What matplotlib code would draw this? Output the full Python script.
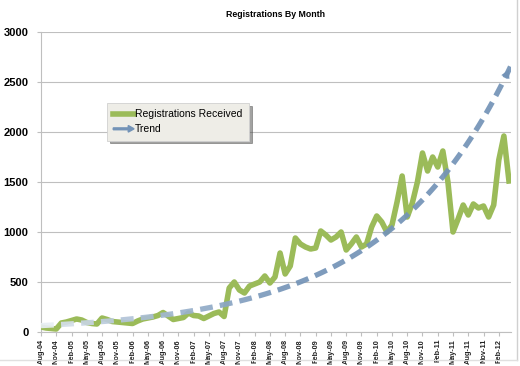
import numpy as np
import matplotlib
matplotlib.use("Agg")
import matplotlib.pyplot as plt
from matplotlib.collections import LineCollection
from matplotlib.lines import Line2D
from matplotlib.patches import FancyArrow
from matplotlib.legend_handler import HandlerPatch

plt.rcParams['font.family'] = ['Liberation Sans', 'DejaVu Sans']

# monthly registrations, Aug-04 .. Apr-12
months = ['Aug-04', 'Sep-04', 'Oct-04', 'Nov-04', 'Dec-04', 'Jan-05', 'Feb-05', 'Mar-05', 'Apr-05',
          'May-05', 'Jun-05', 'Jul-05', 'Aug-05', 'Sep-05', 'Oct-05', 'Nov-05', 'Dec-05', 'Jan-06',
          'Feb-06', 'Mar-06', 'Apr-06', 'May-06', 'Jun-06', 'Jul-06', 'Aug-06', 'Sep-06', 'Oct-06',
          'Nov-06', 'Dec-06', 'Jan-07', 'Feb-07', 'Mar-07', 'Apr-07', 'May-07', 'Jun-07', 'Jul-07',
          'Aug-07', 'Sep-07', 'Oct-07', 'Nov-07', 'Dec-07', 'Jan-08', 'Feb-08', 'Mar-08', 'Apr-08',
          'May-08', 'Jun-08', 'Jul-08', 'Aug-08', 'Sep-08', 'Oct-08', 'Nov-08', 'Dec-08', 'Jan-09',
          'Feb-09', 'Mar-09', 'Apr-09', 'May-09', 'Jun-09', 'Jul-09', 'Aug-09', 'Sep-09', 'Oct-09',
          'Nov-09', 'Dec-09', 'Jan-10', 'Feb-10', 'Mar-10', 'Apr-10', 'May-10', 'Jun-10', 'Jul-10',
          'Aug-10', 'Sep-10', 'Oct-10', 'Nov-10', 'Dec-10', 'Jan-11', 'Feb-11', 'Mar-11', 'Apr-11',
          'May-11', 'Jun-11', 'Jul-11', 'Aug-11', 'Sep-11', 'Oct-11', 'Nov-11', 'Dec-11', 'Jan-12',
          'Feb-12', 'Mar-12', 'Apr-12']
registrations = [50, 40, 35, 30, 90, 100, 115, 130, 120,
                 95, 85, 80, 140, 125, 105, 100, 95, 90,
                 85, 110, 130, 140, 150, 165, 195, 160, 125,
                 135, 145, 190, 165, 160, 135, 160, 185, 200,
                 155, 440, 500, 420, 390, 460, 480, 500, 560,
                 490, 550, 790, 580, 660, 940, 880, 850, 830,
                 840, 1010, 970, 920, 950, 1000, 820, 880, 950,
                 850, 880, 1050, 1160, 1100, 1000, 1070, 1300, 1560,
                 1150, 1290, 1500, 1790, 1610, 1750, 1650, 1810, 1500,
                 1000, 1130, 1270, 1170, 1280, 1240, 1260, 1150, 1270,
                 1720, 1960, 1510]

green = '#9bbb59'
trend_col = np.array([0x73, 0x93, 0xb7]) / 255.0
light_col = np.array([0xe8, 0xee, 0xf4]) / 255.0

x = np.arange(len(registrations))
y = np.array(registrations, dtype=float)

# exponential trendline, like excel does it (fit on log values)
b, ln_a = np.polyfit(x, np.log(y), 1)

fig = plt.figure(figsize=(5.2, 3.66), dpi=100)
ax = fig.add_axes([41/520, 1 - 332/366, 470/520, 300/366])

ax.plot(x, y, color=green, lw=4, solid_joinstyle='round', zorder=3)

ax.set_xlim(0, len(x) - 0.6)
ax.set_ylim(0, 3000)
ax.set_yticks(range(0, 3001, 500))
ax.set_yticklabels([str(v) for v in range(0, 3001, 500)], fontsize=8, fontweight='bold')
ax.set_xticks(x[::3])
ax.set_xticklabels(months[::3], rotation=90, fontsize=5.3, fontweight='bold', color='#222222')
ax.tick_params(axis='y', length=3, color='#bfbfbf', pad=6)
ax.tick_params(axis='x', length=3, color='#bfbfbf', pad=2)
ax.grid(axis='y', color='#bfbfbf', lw=0.8)
ax.set_axisbelow(True)
for s in ['top', 'right']:
    ax.spines[s].set_visible(False)
for s in ['left', 'bottom']:
    ax.spines[s].set_color('#bfbfbf')
    ax.spines[s].set_linewidth(0.8)

ax.set_title('Registrations By Month', fontsize=6.3, fontweight='bold', pad=11)

# dashed trend with a fade-in, dashes cut by hand in pixel space
tt = np.linspace(0, x[-1] + 0.3, 3000)
ty = np.exp(ln_a + b * tt)
pix = ax.transData.transform(np.c_[tt, ty])
arc = np.r_[0, np.cumsum(np.hypot(np.diff(pix[:, 0]), np.diff(pix[:, 1])))]
on, off = 13.0, 7.0
segs, cols = [], []
start = 0.0
while start < arc[-1] - 10:
    m = (arc >= start) & (arc <= start + on)
    if m.sum() > 1:
        segs.append(np.c_[tt[m], ty[m]])
        f = min(1.0, (tt[m][0] / 48.0)) ** 0.7
        cols.append(tuple(light_col + (trend_col - light_col) * f) + (0.92,))
    start += on + off
ax.add_collection(LineCollection(segs, colors=cols, linewidths=3.8, capstyle='butt', zorder=4))
ax.annotate('', xy=(tt[-1], ty[-1]), xytext=(tt[-60], ty[-60]),
            arrowprops=dict(arrowstyle='-|>', color=trend_col, lw=0, mutation_scale=16),
            zorder=5, annotation_clip=False)

# legend
def make_arrow(legend, orig_handle, xdescent, ydescent, width, height, fontsize):
    return FancyArrow(0, height / 2, width, 0, width=height * 0.25, head_width=height * 0.9,
                      head_length=height * 0.8, length_includes_head=True)

h1 = Line2D([], [], color=green, lw=4)
h2 = FancyArrow(0, 0, 1, 0, color=trend_col)
leg = fig.legend([h1, h2], ['Registrations Received', 'Trend'],
                 handler_map={FancyArrow: HandlerPatch(patch_func=make_arrow)},
                 loc='upper left', bbox_to_anchor=(107/520, 1 - 103/366),
                 fontsize=7.5, frameon=True, fancybox=False, shadow=True,
                 handlelength=2.0, handletextpad=0.1, borderaxespad=0, borderpad=0.6,
                 labelspacing=0.5)
leg.get_frame().set_facecolor('#eeede7')
leg.get_frame().set_edgecolor('#d0d0d0')
leg.get_frame().set_linewidth(0.6)

# chart area border (right and bottom)
fig.add_artist(Line2D([517/520, 517/520], [1 - 360/366, 1.0], transform=fig.transFigure,
                      color='#d0d0d0', lw=1))
fig.add_artist(Line2D([0, 517/520], [1 - 360/366, 1 - 360/366], transform=fig.transFigure,
                      color='#e0e0e0', lw=1))

fig.savefig('out.png', dpi=100)
